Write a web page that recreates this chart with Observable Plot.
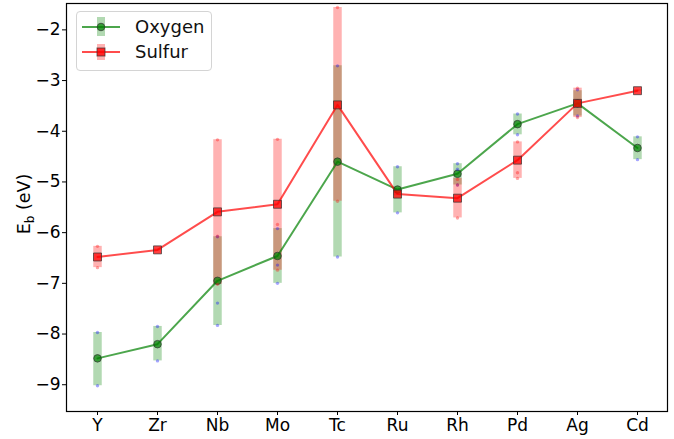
<!DOCTYPE html>
<html><head><meta charset="utf-8">
<script src="https://cdn.jsdelivr.net/npm/d3@7"></script>
<script src="https://cdn.jsdelivr.net/npm/@observablehq/plot@0.6"></script>
<style>
body{margin:0;background:#fff;}
#wrap{position:relative;width:674px;height:439px;font-family:"DejaVu Sans",sans-serif;}
#legend{position:absolute;left:76px;top:11px;width:136px;height:60px;border:1px solid #d4d4d4;border-radius:4px;background:rgba(255,255,255,0.85);box-sizing:border-box;}
#legend .row{position:absolute;left:0;height:26px;width:135px;}
#legend svg{position:absolute;left:0;top:0;}
#legend span{position:absolute;left:58px;font-size:18px;line-height:18px;color:#111;}
</style></head><body><div id="wrap"><div id="legend">
<div class="row" style="top:2px"><svg width="50" height="26"><rect x="20" y="3" width="8" height="19" fill="green" fill-opacity="0.3"/><line x1="5" x2="43" y1="13" y2="13" stroke="green" stroke-opacity="0.7" stroke-width="2"/><circle cx="24" cy="13" r="3.8" fill="green" fill-opacity="0.7" stroke="#333" stroke-opacity="0.7"/></svg><span style="top:4px">Oxygen</span></div>
<div class="row" style="top:28px"><svg width="50" height="26"><rect x="20" y="4" width="8" height="16" fill="red" fill-opacity="0.3"/><line x1="5" x2="43" y1="12" y2="12" stroke="red" stroke-opacity="0.7" stroke-width="2"/><rect x="20" y="8" width="8" height="8" fill="red" fill-opacity="0.8" stroke="#333" stroke-opacity="0.7"/></svg><span style="top:3px">Sulfur</span></div>
</div></div>
<script>
const categories = ["Y","Zr","Nb","Mo","Tc","Ru","Rh","Pd","Ag","Cd"];
const oxygenMean = [-8.48, -8.20, -6.95, -6.46, -4.60, -5.15, -4.84, -3.86, -3.45, -4.33];
const oxygenMin  = [-9.02, -8.53, -7.83, -7.00, -6.48, -5.61, -5.06, -4.07, -3.70, -4.56];
const oxygenMax  = [-7.97, -7.85, -6.08, -5.92, -2.71, -4.70, -4.64, -3.66, -3.20, -4.11];
const sulfurMean = [-6.48, -6.34, -5.59, -5.44, -3.48, -5.24, -5.32, -4.57, -3.45, -3.20];
const sulfurMin  = [-6.69, -6.36, -7.02, -6.74, -5.38, -5.27, -5.71, -4.93, -3.73, -3.22];
const sulfurMax  = [-6.27, -6.32, -4.17, -4.16, -1.56, -5.21, -4.93, -4.21, -3.15, -3.18];
const oxygenPoints = [["Y",-7.97],["Y",-9.02],["Zr",-7.85],["Zr",-8.53],["Nb",-6.08],["Nb",-7.39],["Nb",-7.83],
  ["Mo",-5.92],["Mo",-6.64],["Mo",-7.00],["Tc",-2.71],["Tc",-6.48],["Ru",-4.70],["Ru",-5.61],
  ["Rh",-4.64],["Rh",-4.75],["Rh",-5.06],["Pd",-3.66],["Pd",-4.07],["Ag",-3.18],["Ag",-3.70],["Cd",-4.11],["Cd",-4.56]];
const sulfurPoints = [["Y",-6.27],["Y",-6.69],["Nb",-4.17],["Nb",-6.07],["Nb",-7.02],["Mo",-4.16],["Mo",-5.84],["Mo",-6.74],
  ["Tc",-1.56],["Tc",-5.38],["Rh",-4.95],["Rh",-5.06],["Rh",-5.71],["Pd",-4.21],["Pd",-4.82],["Pd",-4.93],["Ag",-3.15],["Ag",-3.73]];
const yTicks = [-9,-8,-7,-6,-5,-4,-3,-2];

const rows = categories.map((c,i)=>({cat:c, oMean:oxygenMean[i], oMin:oxygenMin[i], oMax:oxygenMax[i],
  sMean:sulfurMean[i], sMin:sulfurMin[i], sMax:sulfurMax[i]}));
const oPts = oxygenPoints.map(([c,v])=>({cat:c, v}));
const sPts = sulfurPoints.map(([c,v])=>({cat:c, v}));

const chart = Plot.plot({
  width:674, height:439, marginLeft:66, marginRight:7, marginTop:3, marginBottom:28,
  style:{fontFamily:"DejaVu Sans", fontSize:"17px", background:"white", color:"black"},
  x:{type:"point", domain:categories, padding:0.455},
  y:{domain:[-9.528,-1.48]},
  marks:[
    Plot.ruleX(rows,{x:"cat", y1:"oMin", y2:"oMax", stroke:"green", strokeOpacity:0.3, strokeWidth:8.5}),
    Plot.ruleX(rows,{x:"cat", y1:"sMin", y2:"sMax", stroke:"red", strokeOpacity:0.3, strokeWidth:8.5}),
    Plot.line(rows,{x:"cat", y:"oMean", stroke:"green", strokeOpacity:0.7, strokeWidth:2}),
    Plot.line(rows,{x:"cat", y:"sMean", stroke:"red", strokeOpacity:0.7, strokeWidth:2}),
    Plot.dot(rows,{x:"cat", y:"oMean", r:3.8, fill:"green", fillOpacity:0.7, stroke:"#333", strokeOpacity:0.7, strokeWidth:1}),
    Plot.dot(rows,{x:"cat", y:"sMean", symbol:"square", r:4.5, fill:"red", fillOpacity:0.75, stroke:"#333", strokeOpacity:0.7, strokeWidth:1}),
    Plot.dot(oPts,{x:"cat", y:"v", r:1.7, fill:"blue", fillOpacity:0.35, stroke:null}),
    Plot.dot(sPts,{x:"cat", y:"v", r:1.7, fill:"red", fillOpacity:0.35, stroke:null}),
    Plot.frame({stroke:"black", strokeWidth:1.2}),
    Plot.axisY({ticks:yTicks, tickSize:4, tickPadding:2, label:null, fontSize:17, tickFormat:d=>"\u2212"+Math.abs(d)}),
    Plot.axisX({tickSize:4, tickPadding:3, label:null, fontSize:17})
  ]
});
const wrap = document.getElementById("wrap");
wrap.insertBefore(chart, wrap.firstChild);
const t = d3.select(chart).append("text")
  .attr("transform","translate(30,204) rotate(-90)")
  .attr("text-anchor","middle").attr("font-size",17.5).attr("font-family","DejaVu Sans").attr("fill","black");
t.append("tspan").text("E");
t.append("tspan").attr("font-size",12).attr("dy",3.5).text("b");
t.append("tspan").attr("dy",-3.5).text(" (eV)");
</script></body></html>
